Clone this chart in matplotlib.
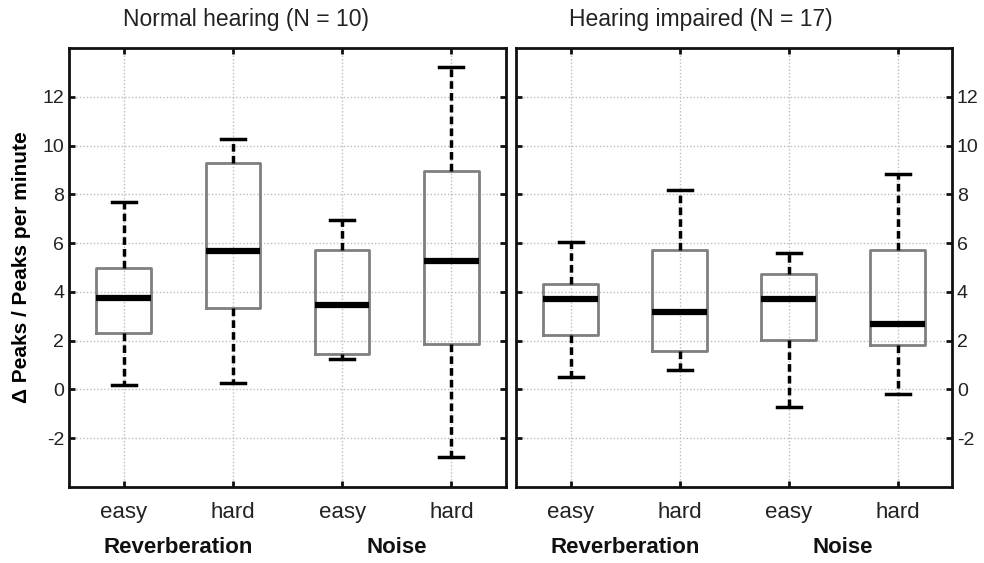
"""
Boxplots of peak-rate change for normal hearing vs hearing impaired listeners.
"""

import matplotlib
matplotlib.use("Agg")
import matplotlib.pyplot as plt

plt.rcParams['font.family'] = ['Liberation Sans', 'DejaVu Sans']
plt.rcParams['axes.unicode_minus'] = False

# categories / labels
conditions = ["easy", "hard", "easy", "hard"]
groups = ["Reverberation", "Noise"]
panel_titles = ["Normal hearing (N = 10)", "Hearing impaired (N = 17)"]
y_ticks = [-2, 0, 2, 4, 6, 8, 10, 12]

# box statistics: whislo, q1, med, q3, whishi
nh_whislo = [0.19, 0.28, 1.26, -2.78]
nh_q1 = [2.31, 3.36, 1.47, 1.88]
nh_med = [3.77, 5.67, 3.45, 5.26]
nh_q3 = [4.99, 9.30, 5.71, 8.96]
nh_whishi = [7.70, 10.26, 6.93, 13.22]

hi_whislo = [0.53, 0.81, -0.73, -0.18]
hi_q1 = [2.25, 1.57, 2.04, 1.81]
hi_med = [3.70, 3.18, 3.69, 2.70]
hi_q3 = [4.34, 5.71, 4.73, 5.71]
hi_whishi = [6.03, 8.17, 5.60, 8.84]


def make_stats(whislo, q1, med, q3, whishi):
    return [dict(whislo=a, q1=b, med=c, q3=d, whishi=e, fliers=[])
            for a, b, c, d, e in zip(whislo, q1, med, q3, whishi)]


panels = [
    make_stats(nh_whislo, nh_q1, nh_med, nh_q3, nh_whishi),
    make_stats(hi_whislo, hi_q1, hi_med, hi_q3, hi_whishi),
]

fig = plt.figure(figsize=(9.84, 5.63), dpi=100)
ax_rects = [[0.0701, 0.135, 0.4441, 0.7797], [0.5244, 0.135, 0.4431, 0.7797]]
title_x = [0.25, 0.7124]
positions = [1, 2, 3, 4]

for i, stats in enumerate(panels):
    ax = fig.add_axes(ax_rects[i])
    ax.bxp(stats, positions=positions, widths=0.5, showfliers=False,
           boxprops=dict(color='#7f7f7f', linewidth=2),
           medianprops=dict(color='black', linewidth=4.5, solid_capstyle='butt'),
           whiskerprops=dict(color='black', linewidth=2.5, linestyle=(0, (2.2, 1.2))),
           capprops=dict(color='black', linewidth=2.5),
           capwidths=0.22)
    ax.set_xlim(0.5, 4.5)
    ax.set_ylim(-4, 14)
    ax.set_yticks(y_ticks)
    ax.set_xticks(positions)
    ax.set_xticklabels(conditions, fontsize=16, color='#222222')
    ax.grid(True, color='#bdbdbd', linestyle=(0, (1, 1.5)), linewidth=1)
    ax.set_axisbelow(True)
    for sp in ax.spines.values():
        sp.set_linewidth(2)
        sp.set_color('#111111')
    ax.tick_params(direction='in', length=4, width=2, top=True, right=True,
                   colors='#111111', labelcolor='#222222')
    ax.tick_params(axis='y', labelsize=14)
    ax.tick_params(axis='x', pad=11)
    if i == 1:
        ax.yaxis.tick_right()
        ax.tick_params(axis='y', left=True, direction='in')
    else:
        ax.set_ylabel("Δ Peaks / Peaks per minute", fontsize=15,
                      fontweight='bold', labelpad=8)
    fig.text(title_x[i], 0.9645, panel_titles[i], ha='center', va='center',
             fontsize=16.5, color='#222222')
    # group labels under each pair of conditions
    for j, g in enumerate(groups):
        ax.text(1.5 + 2 * j, -0.138, g, transform=ax.get_xaxis_transform(),
                ha='center', va='center', fontsize=16, fontweight='bold',
                color='#111111')

fig.savefig("out.png", dpi=100)
